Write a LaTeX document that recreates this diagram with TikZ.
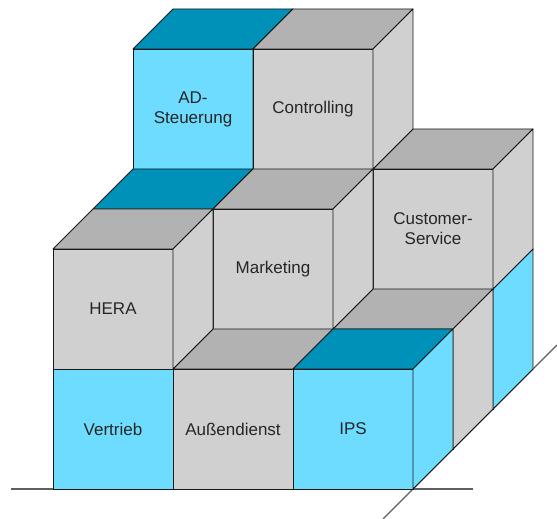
\documentclass[tikz,border=0pt]{standalone}
\usepackage{fontspec}
\setmainfont{Liberation Sans}
\usepackage{tikz}
\usetikzlibrary{positioning}

\definecolor{lightblue}{RGB}{110,220,255}
\definecolor{darkblue}{RGB}{0,145,185}
\definecolor{lightgrey}{RGB}{208,208,208}
\definecolor{darkgrey}{RGB}{178,178,178}
\definecolor{edgecol}{RGB}{25,25,25}
\definecolor{groundcol}{RGB}{95,95,95}

\begin{document}
\begin{tikzpicture}[x=1pt, y=1pt, line width=0.9pt,
                    face/.style={rectangle, draw=edgecol, fill=#1, anchor=south west, outer sep=0pt, inner sep=0pt,
                                 minimum width=120pt, minimum height=120pt, align=center,
                                 font=\fontsize{17}{20}\selectfont, text=black!85},
                    blueface/.style={face=lightblue},
                    greyface/.style={face=lightgrey},
                    topface/.style={fill=#1, draw=edgecol, line join=round},
                    sideface/.style={fill=#1, draw=edgecol, line join=round},
                    groundline/.style={draw=groundcol, line width=1.1pt}]

	\useasboundingbox (0,0) rectangle (557,519);

	%Ground lines.
	\coordinate (groundW) at (11,30);
	\coordinate (groundE) at (473,30);
	\coordinate (cornerIPS) at (413,30);
	\coordinate (slopeS) at (383,0);
	\coordinate (slopeN) at (557,174);
	\draw [groundline] (groundW) -- (groundE);
	\draw [groundline] (slopeS) -- (slopeN);

	%Back row.
	\node [blueface] (blueback) at (373,110) {};
	\filldraw [topface=darkblue]   (blueback.north west) -- ++(40,40) -- ++(120,0) -- (blueback.north east) -- cycle;
	\filldraw [sideface=lightblue] (blueback.south east) -- ++(40,40) -- ++(0,120) -- (blueback.north east) -- cycle;

	\node [greyface] (customer) at (373,230) {Customer-\\Service};
	\filldraw [topface=darkgrey]   (customer.north west) -- ++(40,40) -- ++(120,0) -- (customer.north east) -- cycle;
	\filldraw [sideface=lightgrey] (customer.south east) -- ++(40,40) -- ++(0,120) -- (customer.north east) -- cycle;

	\node [blueface] (adsteuerung) at (133,350) {AD-\\Steuerung};
	\filldraw [topface=darkblue]   (adsteuerung.north west) -- ++(40,40) -- ++(120,0) -- (adsteuerung.north east) -- cycle;
	\filldraw [sideface=lightblue] (adsteuerung.south east) -- ++(40,40) -- ++(0,120) -- (adsteuerung.north east) -- cycle;

	\node [greyface] (controlling) at (253,350) {Controlling};
	\filldraw [topface=darkgrey]   (controlling.north west) -- ++(40,40) -- ++(120,0) -- (controlling.north east) -- cycle;
	\filldraw [sideface=lightgrey] (controlling.south east) -- ++(40,40) -- ++(0,120) -- (controlling.north east) -- cycle;

	%Middle row.
	\node [greyface] (greyback) at (333,70) {};
	\filldraw [topface=darkgrey]   (greyback.north west) -- ++(40,40) -- ++(120,0) -- (greyback.north east) -- cycle;
	\filldraw [sideface=lightgrey] (greyback.south east) -- ++(40,40) -- ++(0,120) -- (greyback.north east) -- cycle;

	\node [blueface] (bluetop) at (93,190) {};
	\filldraw [topface=darkblue]   (bluetop.north west) -- ++(40,40) -- ++(120,0) -- (bluetop.north east) -- cycle;
	\filldraw [sideface=lightblue] (bluetop.south east) -- ++(40,40) -- ++(0,120) -- (bluetop.north east) -- cycle;

	\node [greyface] (marketing) at (213,190) {Marketing};
	\filldraw [topface=darkgrey]   (marketing.north west) -- ++(40,40) -- ++(120,0) -- (marketing.north east) -- cycle;
	\filldraw [sideface=lightgrey] (marketing.south east) -- ++(40,40) -- ++(0,120) -- (marketing.north east) -- cycle;

	%Front row.
	\node [blueface] (vertrieb) at (53,30) {Vertrieb};
	\node [greyface] (aussendienst) [right=0pt of vertrieb] {Außendienst};
	\filldraw [topface=darkgrey]   (aussendienst.north west) -- ++(40,40) -- ++(120,0) -- (aussendienst.north east) -- cycle;

	\node [blueface] (ips) [right=0pt of aussendienst] {IPS};
	\filldraw [topface=darkblue]   (ips.north west) -- ++(40,40) -- ++(120,0) -- (ips.north east) -- cycle;
	\filldraw [sideface=lightblue] (ips.south east) -- ++(40,40) -- ++(0,120) -- (ips.north east) -- cycle;

	\node [greyface] (hera) [above=0pt of vertrieb] {HERA};
	\filldraw [topface=darkgrey]   (hera.north west) -- ++(40,40) -- ++(120,0) -- (hera.north east) -- cycle;
	\filldraw [sideface=lightgrey] (hera.south east) -- ++(40,40) -- ++(0,120) -- (hera.north east) -- cycle;

\end{tikzpicture}
\end{document}
